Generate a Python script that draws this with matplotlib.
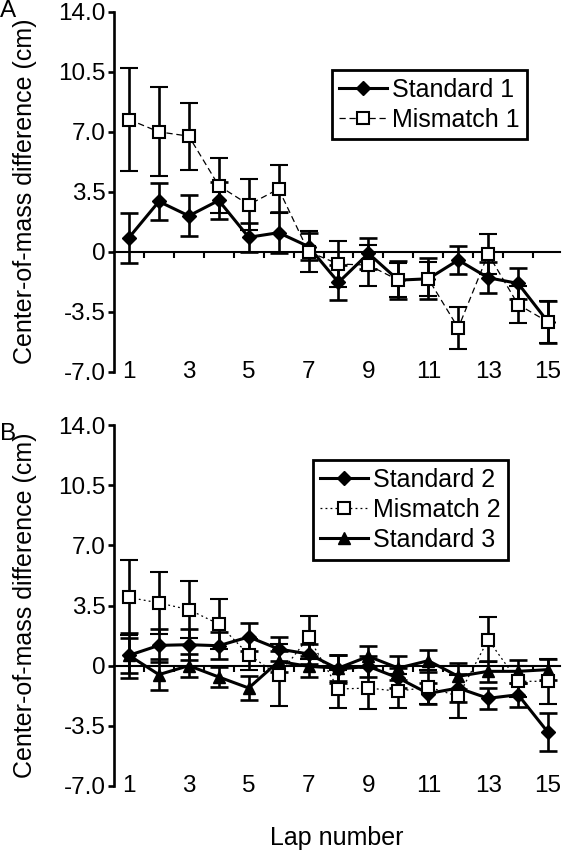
import numpy as np
import matplotlib
matplotlib.use("Agg")
import matplotlib.pyplot as plt

plt.rcParams['font.family'] = ['Liberation Sans', 'DejaVu Sans']

laps = np.arange(1, 16)
xtick_labels = ["1", "3", "5", "7", "9", "11", "13", "15"]
ytick_vals = [-7.0, -3.5, 0.0, 3.5, 7.0, 10.5, 14.0]
ytick_labels = ["-7.0", "-3.5", "0", "3.5", "7.0", "10.5", "14.0"]

# Panel A
std1 = [0.82, 2.93, 2.09, 2.99, 0.84, 1.11, 0.30, -1.79, -0.10, -1.66, -1.58, -0.49, -1.52, -1.85, -4.10]
std1_err = [1.45, 1.10, 1.20, 1.10, 0.85, 1.20, 0.80, 1.00, 0.90, 1.10, 1.20, 0.80, 0.90, 0.90, 1.20]
mis1 = [7.71, 6.99, 6.74, 3.85, 2.74, 3.66, 0.00, -0.72, -0.78, -1.66, -1.58, -4.45, -0.14, -3.08, -4.10]
mis1_err = [3.00, 2.60, 1.95, 1.60, 1.50, 1.40, 1.20, 1.35, 1.20, 1.00, 1.00, 1.20, 1.15, 1.10, 1.25]

# Panel B
std2 = [0.60, 1.18, 1.22, 1.16, 1.67, 0.97, 0.68, -0.20, -0.04, -0.72, -1.62, -1.30, -1.90, -1.69, -3.88]
std2_err = [1.00, 0.95, 0.90, 0.80, 0.80, 0.70, 0.60, 0.80, 0.60, 0.60, 0.60, 0.80, 0.60, 0.70, 1.10]
mis2 = [3.97, 3.65, 3.26, 2.42, 0.64, -0.56, 1.65, -1.36, -1.30, -1.49, -1.24, -1.78, 1.51, -0.91, -0.91]
mis2_err = [2.20, 1.80, 1.65, 1.45, 0.90, 1.80, 1.25, 1.10, 1.20, 1.00, 1.00, 1.25, 1.30, 0.90, 1.30]
std3 = [0.60, -0.52, 0.00, -0.66, -1.30, 0.25, -0.04, -0.14, 0.54, -0.14, 0.29, -0.62, -0.33, -0.33, -0.23]
std3_err = [1.30, 0.90, 0.65, 0.60, 0.70, 0.60, 0.60, 0.75, 0.60, 0.70, 0.65, 0.75, 0.60, 0.65, 0.60]

W, H, DPI = 564, 852, 100
fig = plt.figure(figsize=(W / DPI, H / DPI), dpi=DPI)

left = 114 / W
right = 560 / W
axA = fig.add_axes([left, 1 - 371.7 / H, right - left, (371.7 - 11.7) / H])
axB = fig.add_axes([left, 1 - 786 / H, right - left, (786 - 425) / H])

FS = 17.5
LFS = 18
LW = 1.9


def style_axes(ax):
    ax.set_xlim(0.5, 15.4)
    ax.set_ylim(-7, 14)
    for s in ['top', 'right']:
        ax.spines[s].set_visible(False)
    ax.spines['left'].set_linewidth(LW)
    ax.spines['bottom'].set_linewidth(1.5)
    ax.spines['bottom'].set_position(('data', 0))
    ax.set_yticks(ytick_vals)
    ax.set_yticklabels(ytick_labels)
    ax.tick_params(axis='y', direction='out', length=4, width=LW, labelsize=FS, pad=2)
    ax.set_xticks(laps[::2])
    ax.set_xticklabels(xtick_labels)
    ax.set_xticks(np.arange(1.5, 15, 1), minor=True)
    ax.tick_params(axis='x', which='minor', direction='out', length=4, width=1.5)
    ax_h_px = ax.get_position().height * H
    px_per_unit = ax_h_px / 21.0
    pad_pts = 7 * px_per_unit * 72 / DPI
    ax.tick_params(axis='x', which='major', length=0, labelsize=FS, pad=pad_pts)
    for t in ax.get_xticklabels():
        t.set_va('center')
    ax.set_ylabel("Center-of-mass difference (cm)", fontsize=18)
    ax.yaxis.set_label_coords(-0.172, 0.5)


style_axes(axA)
style_axes(axB)

ekw = dict(ecolor='black', elinewidth=LW, capsize=6.5, capthick=LW)


def make_legend(ax, handles, labels, anchor):
    leg = ax.legend(handles, labels, loc='upper right', bbox_to_anchor=anchor, fontsize=LFS,
                    frameon=True, fancybox=False, framealpha=1, borderpad=0.3,
                    labelspacing=0.25, handlelength=1.9, handletextpad=0.2, borderaxespad=0)
    leg.get_frame().set_edgecolor('black')
    leg.get_frame().set_linewidth(2)
    return leg


# Panel A
cA1 = axA.errorbar(laps, std1, yerr=std1_err, color='black', lw=2.2, marker='D', ms=7.5,
                   mfc='black', mec='black', zorder=3, **ekw)
cA2 = axA.errorbar(laps, mis1, yerr=mis1_err, color='black', lw=0.9, ls=(0, (5, 3)), marker='s', ms=8,
                   mfc='white', mec='black', mew=1.5, zorder=4, **ekw)
make_legend(axA, [cA1.lines[0], cA2.lines[0]], ['Standard 1', 'Mismatch 1'], (0.926, 0.838))

# Panel B
cB1 = axB.errorbar(laps, std2, yerr=std2_err, color='black', lw=2.2, marker='D', ms=7.5,
                   mfc='black', mec='black', zorder=3, **ekw)
cB2 = axB.errorbar(laps, mis2, yerr=mis2_err, color='black', lw=0.9, ls=(0, (1.5, 2.5)), marker='s', ms=8,
                   mfc='white', mec='black', mew=1.5, zorder=4, **ekw)
cB3 = axB.errorbar(laps, std3, yerr=std3_err, color='black', lw=2.2, marker='^', ms=8.5,
                   mfc='black', mec='black', zorder=3, **ekw)
make_legend(axB, [cB1.lines[0], cB2.lines[0], cB3.lines[0]],
            ['Standard 2', 'Mismatch 2', 'Standard 3'], (0.883, 0.903))

axB.set_xlabel("Lap number", fontsize=18, labelpad=21)

fig.text(0 / W, 1 - 0 / H, "A", fontsize=FS, ha='left', va='top')
fig.text(0 / W, 1 - 423 / H, "B", fontsize=FS, ha='left', va='top')

fig.savefig("out.png", dpi=DPI)
